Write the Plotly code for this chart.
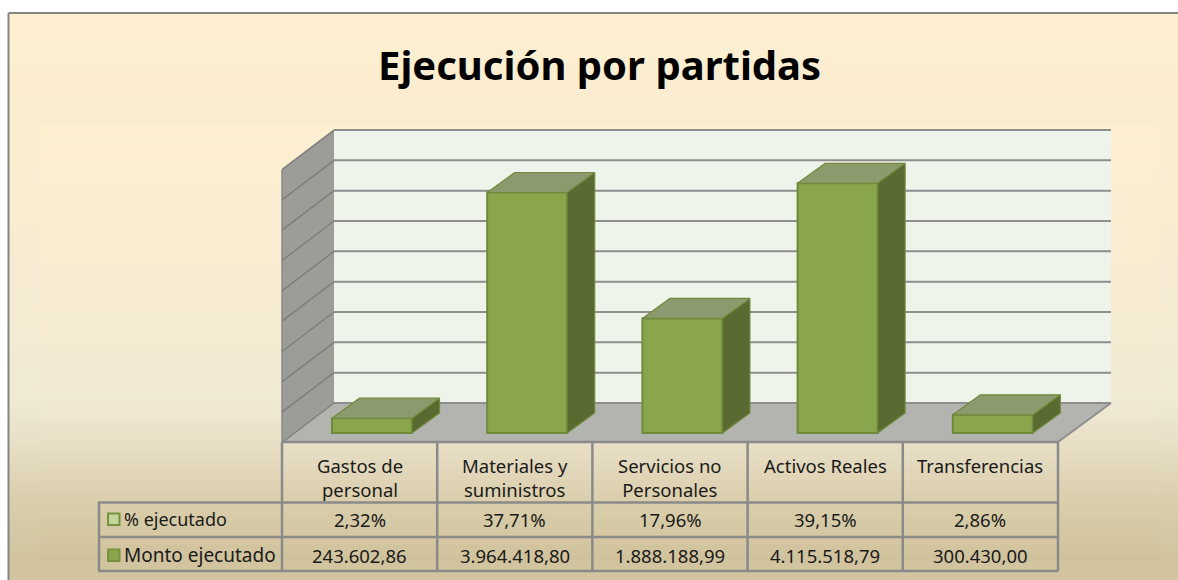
import plotly.graph_objects as go

# ---------- data ----------
categories = ["Gastos de<br>personal", "Materiales y<br>suministros", "Servicios no<br>Personales",
              "Activos Reales", "Transferencias"]
pct_labels = ["2,32%", "37,71%", "17,96%", "39,15%", "2,86%"]
pct_values = [2.32, 37.71, 17.96, 39.15, 2.86]
monto_values = [243602.86, 3964418.80, 1888188.99, 4115518.79, 300430.00]
monto_labels = ["243.602,86", "3.964.418,80", "1.888.188,99", "4.115.518,79", "300.430,00"]
tick_values = [0, 500000, 1000000, 1500000, 2000000, 2500000, 3000000, 3500000, 4000000, 4500000]
title_text = "Ejecución por partidas"
series_names = ["% ejecutado", "Monto ejecutado"]

# ---------- geometry ----------
W, H = 1178, 580
PX_PER_CAT = 155.2
VAL_PER_PX = 500000 / 30.33
X0_PX, Y0_PX = 372.0, 433.0          # first bar centre, bar base
BAR_W = 80 / PX_PER_CAT
DEPTH_X = 27.5 / PX_PER_CAT
DEPTH_Y = 20 * VAL_PER_PX
BACK_SHIFT = (Y0_PX - 403) * VAL_PER_PX

FRONT, SIDE, TOP, EDGE = "#8AA64D", "#596B30", "#8C9B6E", "#71893B"
GRID = "#8E8E8E"


def px(x):
    return x / W


def py(y):
    return 1 - y / H


def hex2rgb(c):
    return [int(c[i:i + 2], 16) for i in (1, 3, 5)]


def grad(y, stops):
    for (y1, c1), (y2, c2) in zip(stops, stops[1:]):
        if y <= y2:
            t = (y - y1) / (y2 - y1)
            a, b = hex2rgb(c1), hex2rgb(c2)
            return "rgb(%d,%d,%d)" % tuple(round(p + (q - p) * t) for p, q in zip(a, b))
    return stops[-1][1]


shapes = []


def rect(x0, y0, x1, y1, fill, line=None, width=0):
    shapes.append(dict(type="rect", xref="paper", yref="paper", layer="below",
                       x0=px(x0), x1=px(x1), y0=py(y0), y1=py(y1), fillcolor=fill,
                       line=dict(color=line or fill, width=width)))


def poly(points, fill, line=None, width=0):
    path = "M" + " L".join(f"{px(a):.5f},{py(b):.5f}" for a, b in points) + " Z"
    shapes.append(dict(type="path", xref="paper", yref="paper", layer="below", path=path,
                       fillcolor=fill, line=dict(color=line or fill, width=width)))


def seg(x0, y0, x1, y1, color=GRID, width=2):
    shapes.append(dict(type="line", xref="paper", yref="paper", layer="below",
                       x0=px(x0), x1=px(x1), y0=py(y0), y1=py(y1),
                       line=dict(color=color, width=width)))


# background gradient bands
outer = [(13, "#FDEED0"), (125, "#FBEDD0"), (300, "#F5EBD2"), (400, "#F0EAD5"), (440, "#E8E0C8"),
         (500, "#DACEAD"), (560, "#D1C39E"), (580, "#D3C5A0")]
inner = [(125, "#FEEFD1"), (300, "#F6EBD1"), (400, "#F1EAD5"), (440, "#E9E0C8"),
         (500, "#DACEAC"), (560, "#D0C29C")]
STEP = 5
for y in range(13, H, STEP):
    rect(9, y, W, y + STEP, grad(y + STEP / 2, outer))
for y in range(125, 560, STEP):
    rect(39, y, 1159, min(y + STEP, 560), grad(y + STEP / 2, inner))

# frame
seg(8.5, 13, W, 13, "#858585", 2)
seg(8.5, 13, 8.5, H, "#858585", 2)

# walls and floor
poly([(334, 130), (1111, 130), (1111, 403), (334, 403)], "#EFF4EA")
poly([(282, 170), (334, 130), (334, 403), (282, 442)], "#9C9D99")
poly([(282, 442), (334, 403), (1111, 403), (1058, 442)], "#B3B4B0")
seg(282, 170, 282, 442, "#8A8A8A", 1.5)

# gridlines driven by the y axis values (back wall) and slanted on the side wall
for v in tick_values:
    shapes.append(dict(type="line", xref="paper", yref="y", layer="below",
                       x0=px(334), x1=px(1111), y0=v + BACK_SHIFT, y1=v + BACK_SHIFT,
                       line=dict(color=GRID, width=2)))
    y_back = Y0_PX - (v + BACK_SHIFT) / VAL_PER_PX
    seg(282, y_back + 39.5, 334, y_back, "#7E7E7E", 1.5)
seg(1058, 442, 1111, 403, GRID, 2)

# table
col_edges = [282 + PX_PER_CAT * i for i in range(6)]
row_edges = [442, 502.5, 537, 571]
TABLE = "#8A8A8A"
seg(282, row_edges[0], col_edges[-1], row_edges[0], TABLE, 2.5)
seg(98, row_edges[1], col_edges[-1], row_edges[1], TABLE, 2.5)
seg(98, row_edges[2], col_edges[-1], row_edges[2], TABLE, 2.5)
seg(98, row_edges[3], col_edges[-1], row_edges[3], TABLE, 2.5)
seg(99, row_edges[1], 99, row_edges[3], TABLE, 2.5)
for xe in col_edges:
    seg(xe, row_edges[0], xe, row_edges[3], TABLE, 2.5)

# legend keys
rect(108, 513.5, 119.5, 525, "#C3D69B", "#76923C", 2)
rect(108, 549.5, 119.5, 561, "#8AA64D", "#76923C", 2)

FONT = "'Noto Sans', Lato, sans-serif"
annotations = [dict(text=f"<b>{title_text}</b>", xref="paper", yref="paper", x=px(599), y=py(65),
                    showarrow=False, xanchor="center", yanchor="middle",
                    font=dict(family=FONT, size=40, color="#000000"))]


def label(x, y, text, anchor="center", size=18.5):
    annotations.append(dict(text=text, xref="paper", yref="paper", x=px(x), y=py(y), showarrow=False,
                            xanchor=anchor, yanchor="middle", align="center",
                            font=dict(family=FONT, size=size, color="#1A1A1A")))


for i, cat in enumerate(categories):
    cx = (col_edges[i] + col_edges[i + 1]) / 2
    if "<br>" in cat:
        label(cx, 477, cat)
    else:
        label(cx, 465, cat)
    label(cx, 519, pct_labels[i])
    label(cx, 555, monto_labels[i])
label(122, 519, series_names[0], "left", 18)
label(122, 555, series_names[1], "left", 19)

# ---------- traces ----------
xs = list(range(len(monto_values)))
fig = go.Figure()
fig.add_trace(go.Bar(x=xs, y=monto_values, width=BAR_W, name=series_names[1],
                     marker=dict(color=FRONT, line=dict(color=EDGE, width=2)), hoverinfo="skip",
                     showlegend=False))
for x, v in zip(xs, monto_values):
    xl, xr = x - BAR_W / 2, x + BAR_W / 2
    fig.add_trace(go.Scatter(x=[xr, xr + DEPTH_X, xr + DEPTH_X, xr, xr],
                             y=[0, DEPTH_Y, v + DEPTH_Y, v, 0],
                             mode="lines", fill="toself", fillcolor=SIDE,
                             line=dict(color=EDGE, width=1.2), hoverinfo="skip", showlegend=False))
    fig.add_trace(go.Scatter(x=[xl, xl + DEPTH_X, xr + DEPTH_X, xr, xl],
                             y=[v, v + DEPTH_Y, v + DEPTH_Y, v, v],
                             mode="lines", fill="toself", fillcolor=TOP,
                             line=dict(color=EDGE, width=1.2), hoverinfo="skip", showlegend=False))

fig.update_layout(
    width=W, height=H, margin=dict(l=0, r=0, t=0, b=0), paper_bgcolor="#FFFFFF", plot_bgcolor="rgba(0,0,0,0)",
    showlegend=False, shapes=shapes, annotations=annotations,
    xaxis=dict(range=[(0 - X0_PX) / PX_PER_CAT, (W - X0_PX) / PX_PER_CAT], visible=False, fixedrange=True),
    yaxis=dict(range=[(Y0_PX - H) * VAL_PER_PX, Y0_PX * VAL_PER_PX], visible=False, fixedrange=True),
)
fig.write_html("out.html", config=dict(displayModeBar=False),
               post_script="document.body.style.margin='0';")
